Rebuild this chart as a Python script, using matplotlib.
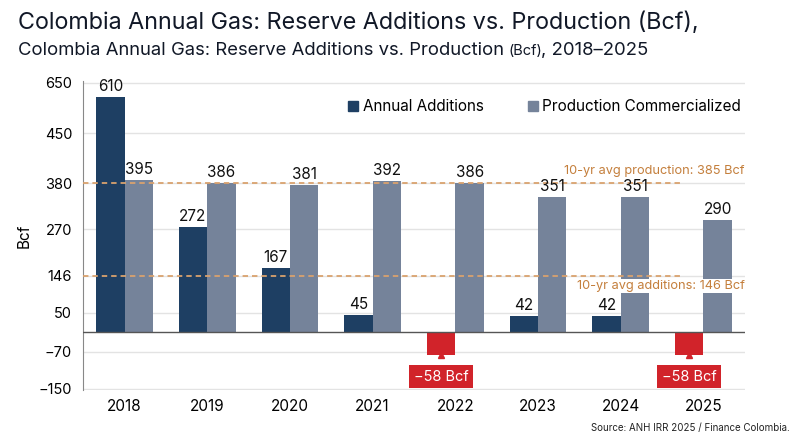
import numpy as np
import matplotlib.pyplot as plt
from matplotlib.patches import Patch

plt.rcParams['font.family'] = ['Inter', 'DejaVu Sans']

# Dados
anos = ['2018', '2019', '2020', '2021', '2022', '2023', '2024', '2025']
adicoes = [610, 272, 167, 45, -58, 42, 42, -58]
producao = [395, 386, 381, 392, 386, 351, 351, 290]
media_prod = 385
media_adic = 146
ytick_pos = [646, 515, 385, 267, 146, 51, -51, -146]
ytick_lab = ['650', '450', '380', '270', '146', '50', '\u221270', '\u2212150']

c_azul = '#1e3f63'
c_cinza = '#75839a'
c_verm = '#d1232a'
c_media = '#d9a26e'
c_media_txt = '#c47f3c'

fig = plt.figure(figsize=(8, 4.36), dpi=100)
ax = fig.add_axes([0.104, 0.105, 0.827, 0.709])

x = np.arange(len(anos))
w = 0.344
cores = [c_azul if v >= 0 else c_verm for v in adicoes]
ax.bar(x - w / 2, adicoes, w, color=cores, zorder=3)
ax.bar(x + w / 2, producao, w, color=c_cinza, zorder=3)

# Rótulos das barras
for xi, v in zip(x, adicoes):
    if v >= 0:
        ax.annotate(str(v), (xi - w / 2, v), xytext=(0, 3), textcoords='offset pixels',
                    ha='center', va='bottom', fontsize=11, color='#111111', zorder=5)
    else:
        ax.annotate(f'\u2212{abs(v)} Bcf', (xi - w / 2, v), xytext=(0, -22),
                    textcoords='offset pixels', ha='center', va='center', fontsize=10.5,
                    color='white', zorder=6,
                    bbox=dict(boxstyle='square,pad=0.3', fc=c_verm, ec='none'))
        ax.plot(xi - w / 2, v, marker='^', ms=5, color=c_verm, zorder=6, clip_on=False)
for xi, v in zip(x, producao):
    ax.annotate(str(v), (xi + w / 2, v), xytext=(0, 3), textcoords='offset pixels',
                ha='center', va='bottom', fontsize=11, color='#111111', zorder=5)

# Linhas de média
ax.plot([-0.5, 6.73], [media_prod, media_prod], ls=(0, (3, 2.2)), color=c_media, lw=1.3, zorder=4)
ax.plot([-0.5, 6.73], [media_adic, media_adic], ls=(0, (3, 2.2)), color=c_media, lw=1.3, zorder=4)
ax.annotate(f'10-yr avg production: {media_prod} Bcf', (7.5, media_prod), xytext=(0, 6),
            textcoords='offset pixels', ha='right', va='bottom',
            fontsize=9.2, color=c_media_txt, zorder=5)
ax.annotate(f'10-yr avg additions: {media_adic} Bcf', (7.5, media_adic), xytext=(0, -4),
            textcoords='offset pixels', ha='right', va='top',
            fontsize=9.2, color=c_media_txt, zorder=5,
            bbox=dict(boxstyle='square,pad=0.1', fc='white', ec='none'))

ax.axhline(0, color='#555555', lw=1.0, zorder=4)

ax.set_xlim(-0.5, 7.5)
ax.set_ylim(-150, 650)
ax.set_xticks(x)
ax.set_xticklabels(anos, fontsize=11)
ax.set_yticks(ytick_pos)
ax.set_yticklabels(ytick_lab, fontsize=10.5)
ax.tick_params(length=0, pad=8)
ax.tick_params(axis='x', pad=6)
ax.grid(axis='y', color='#e3e3e3', lw=1, zorder=0)
for s in ['top', 'right', 'bottom']:
    ax.spines[s].set_visible(False)
ax.spines['left'].set_color('#888888')
ax.set_ylabel('Bcf', fontsize=11, labelpad=5)

leg = ax.legend(handles=[Patch(color=c_azul, label='Annual Additions'),
                         Patch(color=c_cinza, label='Production Commercialized')],
                loc='upper right', bbox_to_anchor=(1.015, 0.985), ncol=2, frameon=False,
                fontsize=11, handlelength=0.65, handleheight=0.65, handletextpad=0.3,
                columnspacing=2.9)

# Títulos
fig.text(0.022, 0.948, 'Colombia Annual Gas: Reserve Additions vs. Production (Bcf),',
         fontsize=16.8, color='#111827', va='center')
fig.canvas.draw()
r = fig.canvas.get_renderer()
yb = 0.873
t1 = fig.text(0.022, yb, 'Colombia Annual Gas: Reserve Additions vs. Production ',
              fontsize=13.3, color='#111827', va='baseline')
bb = t1.get_window_extent(r)
t2 = fig.text(bb.x1 / 800, yb, '(Bcf)', fontsize=10.5, color='#111827', va='baseline')
bb2 = t2.get_window_extent(r)
fig.text((bb2.x1 - 2) / 800, yb, ', 2018\u20132025', fontsize=13.3, color='#111827', va='baseline')

fig.text(0.987, 0.012, 'Source: ANH IRR 2025 / Finance Colombia.', ha='right', fontsize=7,
         color='#222222')

fig.savefig('out.png', dpi=100)
